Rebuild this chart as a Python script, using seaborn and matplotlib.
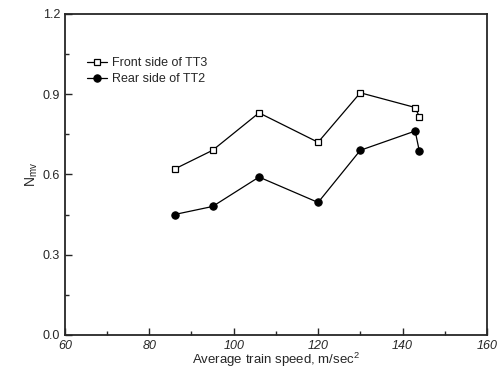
# Nmv vs average train speed
import matplotlib
matplotlib.use('Agg')
import matplotlib.pyplot as plt
import seaborn as sns
from matplotlib.ticker import MultipleLocator

# data
speed_front = [86, 95, 106, 120, 130, 143, 144]
nmv_front = [0.62, 0.69, 0.83, 0.72, 0.905, 0.85, 0.815]
speed_rear = [86, 95, 106, 120, 130, 143, 144]
nmv_rear = [0.45, 0.48, 0.59, 0.495, 0.69, 0.762, 0.686]

sns.set_style('ticks')
plt.rcParams['font.family'] = ['Liberation Sans', 'DejaVu Sans']
plt.rcParams['mathtext.fontset'] = 'custom'
plt.rcParams['mathtext.rm'] = 'Liberation Sans'
plt.rcParams['mathtext.it'] = 'Liberation Sans'

fig = plt.figure(figsize=(5.03, 3.75), dpi=100)
ax = fig.add_axes([0.129, 0.107, 0.839, 0.856])

sns.lineplot(x=speed_front, y=nmv_front, sort=False, ax=ax, color='black',
             lw=0.9, marker='s', markersize=5, markerfacecolor='white',
             markeredgecolor='black', markeredgewidth=0.9,
             label='Front side of TT3')
sns.lineplot(x=speed_rear, y=nmv_rear, sort=False, ax=ax, color='black',
             lw=0.9, marker='o', markersize=5.3, markerfacecolor='black',
             markeredgecolor='black', label='Rear side of TT2')

ax.set_xlim(60, 160)
ax.set_ylim(0, 1.2)
ax.xaxis.set_major_locator(MultipleLocator(20))
ax.xaxis.set_minor_locator(MultipleLocator(10))
ax.yaxis.set_major_locator(MultipleLocator(0.3))
ax.yaxis.set_minor_locator(MultipleLocator(0.15))
ax.yaxis.set_major_formatter(plt.FormatStrFormatter('%.1f'))
ax.tick_params(which='both', direction='in', top=False, right=False,
               labelsize=9, width=1)
ax.tick_params(which='major', length=5)
ax.tick_params(which='minor', length=3)
for lab in ax.get_xticklabels():
    lab.set_style('italic')
for sp in ax.spines.values():
    sp.set_linewidth(1.3)

ax.set_xlabel('Average train speed, m/sec$^2$', fontsize=9.5, labelpad=-1)
ax.set_ylabel('$N_{mv}$', fontsize=10, labelpad=2)

ax.legend(loc='upper left', bbox_to_anchor=(0.025, 0.9), frameon=False,
          fontsize=9, handlelength=1.6, handletextpad=0.4, labelspacing=0.3)

fig.savefig('out.png', dpi=100)
